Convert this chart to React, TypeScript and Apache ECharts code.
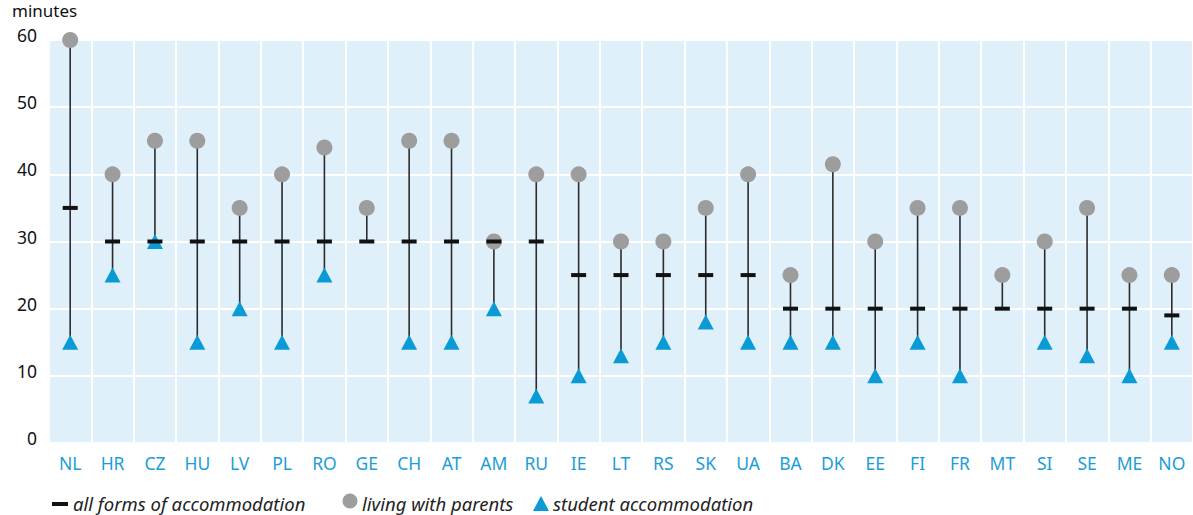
import React, { useEffect, useRef } from "react";
import * as echarts from "echarts";

const categories = ["NL","HR","CZ","HU","LV","PL","RO","GE","CH","AT","AM","RU","IE","LT","RS","SK","UA","BA","DK","EE","FI","FR","MT","SI","SE","ME","NO"];
const allForms = [35,30,30,30,30,30,30,30,30,30,30,30,25,25,25,25,25,20,20,20,20,20,20,20,20,20,19];
const livingWithParents = [60,40,45,45,35,40,44,35,45,45,30,40,40,30,30,35,40,25,41.5,30,35,35,25,30,35,25,25];
const studentAccommodation: (number | null)[] = [15,25,30,15,20,15,25,null,15,15,20,7,10,13,15,18,15,15,15,10,15,10,null,15,13,10,15];
const yTicks = [0, 10, 20, 30, 40, 50, 60];

const FONT = "'Noto Sans', sans-serif";

export default function App() {
  const ref = useRef<HTMLDivElement>(null);
  useEffect(() => {
    document.body.style.margin = "0";
    const chart = echarts.init(ref.current!, null, { renderer: "svg" });
    const rangeData = categories.map((_, i) => {
      const vals = [allForms[i], livingWithParents[i], studentAccommodation[i]].filter((v) => v != null) as number[];
      return [i, Math.min(...vals), Math.max(...vals)];
    });
    chart.setOption({
      animation: false,
      textStyle: { fontFamily: FONT },
      grid: {
        left: 49, right: 0, top: 40, bottom: 72,
        show: true, backgroundColor: "#dff0fa", borderWidth: 0,
      },
      xAxis: {
        type: "category",
        data: categories,
        boundaryGap: true,
        axisLine: { show: false },
        axisTick: { show: false },
        axisLabel: { color: "#1c9dd9", fontSize: 17.5, margin: 11, fontFamily: FONT },
        splitLine: { show: true, lineStyle: { color: "#ffffff", width: 2 } },
      },
      yAxis: {
        type: "value",
        min: yTicks[0],
        max: yTicks[yTicks.length - 1],
        interval: 10,
        axisLine: { show: false },
        axisTick: { show: false },
        axisLabel: { color: "#111", fontSize: 17.5, margin: 12, fontFamily: FONT, verticalAlign: "bottom", lineHeight: 10 },
        splitLine: { show: true, lineStyle: { color: "#ffffff", width: 2 } },
      },
      graphic: [
        { type: "text", left: 12, top: 2, style: { text: "minutes", font: `17px ${FONT}`, fill: "#111" } },
        { type: "rect", shape: { x: 52, y: 502, width: 16, height: 4 }, style: { fill: "#111" } },
        { type: "text", x: 73, y: 503, style: { text: "all forms of accommodation", font: `italic 18.5px ${FONT}`, fill: "#222", verticalAlign: "middle" } },
        { type: "circle", shape: { cx: 350, cy: 501, r: 7.5 }, style: { fill: "#9d9d9d" } },
        { type: "text", x: 362, y: 503, style: { text: "living with parents", font: `italic 18.5px ${FONT}`, fill: "#222", verticalAlign: "middle" } },
        { type: "polygon", shape: { points: [[541, 496], [549, 511], [533, 511]] }, style: { fill: "#0a9bd6" } },
        { type: "text", x: 553, y: 503, style: { text: "student accommodation", font: `italic 18.5px ${FONT}`, fill: "#222", verticalAlign: "middle" } },
      ],
      series: [
        {
          name: "range",
          type: "custom",
          data: rangeData,
          encode: { x: 0, y: [1, 2] },
          z: 1,
          renderItem: (params: any, api: any) => {
            const i = api.value(0);
            const lo = api.coord([i, api.value(1)]);
            const hi = api.coord([i, api.value(2)]);
            return {
              type: "line",
              shape: { x1: lo[0], y1: lo[1], x2: hi[0], y2: hi[1] },
              style: { stroke: "#2b2b2b", lineWidth: 1.6 },
            };
          },
        },
        {
          name: "living with parents",
          type: "scatter",
          data: livingWithParents,
          symbol: "circle",
          symbolSize: 16,
          itemStyle: { color: "#9d9d9d", opacity: 1 },
          z: 2,
        },
        {
          name: "student accommodation",
          type: "scatter",
          data: studentAccommodation,
          symbol: "triangle",
          symbolSize: [16, 15],
          itemStyle: { color: "#0a9bd6", opacity: 1 },
          z: 3,
        },
        {
          name: "all forms of accommodation",
          type: "scatter",
          data: allForms,
          symbol: "rect",
          symbolSize: [15, 4],
          itemStyle: { color: "#111", opacity: 1 },
          z: 4,
        },
      ],
    });
    return () => chart.dispose();
  }, []);
  return <div ref={ref} style={{ width: 1193, height: 515 }} />;
}
